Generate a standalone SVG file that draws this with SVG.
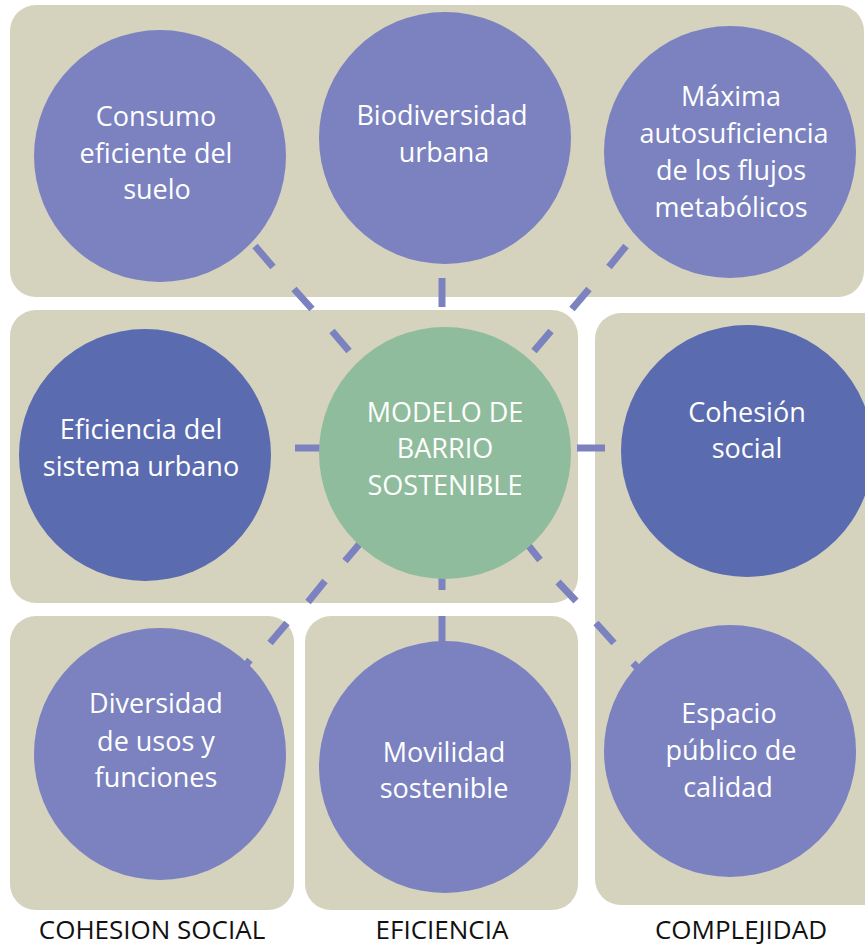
<svg xmlns="http://www.w3.org/2000/svg" width="865" height="948" viewBox="0 0 865 948">
<style>
.panel{fill:#d5d3bd}
.n{fill:#7b82bf}
.d{fill:#5b6bb0}
.c{fill:#8fbc9c}
.t{font-family:"Open Sans","Noto Sans","Liberation Sans",sans-serif;font-size:27px;fill:#ffffff;text-anchor:middle}
.lbl{font-family:"Open Sans","Noto Sans","Liberation Sans",sans-serif;font-size:26px;fill:#111111;text-anchor:middle}
.con{fill:none;stroke:#7b82bf;stroke-width:7;stroke-linecap:butt}
</style>
<rect width="865" height="948" fill="#ffffff"/>
<g id="panels">
<rect class="panel" x="10" y="5" width="854" height="292" rx="26"/>
<rect class="panel" x="10" y="310" width="568" height="293" rx="26"/>
<rect class="panel" x="595" y="313" width="300" height="592" rx="26"/>
<rect class="panel" x="10" y="616" width="284" height="294" rx="26"/>
<rect class="panel" x="305" y="616" width="273" height="294" rx="26"/>
</g>
<g id="connectors">
<path class="con" d="M255,246 L273,267 M294,289 L312,309 M332,331 L349,351"/>
<path class="con" d="M442,278 L442,307"/>
<path class="con" d="M626,246 L609,267 M589,289 L572,309 M551,331 L534,351"/>
<path class="con" d="M295,448 L322,448"/>
<path class="con" d="M577,448 L605,448"/>
<path class="con" d="M362,541 L345,561 M325,581 L308,602 M287,623 L270,643 M250,660 L235,678"/>
<path class="con" d="M442,565 L442,590 M442,616 L442,645"/>
<path class="con" d="M524,540 L540,560 M558,582 L576,601 M596,623 L614,643 M633,663 L648,679"/>
</g>
<g id="consumo"><circle class="n" cx="160" cy="156" r="126"/>
<text class="t" x="156" y="126">Consumo</text><text class="t" x="156" y="163">eficiente del</text><text class="t" x="157" y="199">suelo</text></g>
<g id="biodiversidad"><circle class="n" cx="445" cy="138" r="126"/>
<text class="t" x="442" y="125">Biodiversidad</text><text class="t" x="444" y="162">urbana</text></g>
<g id="maxima"><circle class="n" cx="730" cy="152" r="126"/>
<text class="t" x="731" y="106">Máxima</text><text class="t" x="734" y="143">autosuficiencia</text><text class="t" x="731" y="180">de los flujos</text><text class="t" x="731" y="217">metabólicos</text></g>
<g id="eficiencia"><circle class="d" cx="145" cy="455" r="126"/>
<text class="t" x="141" y="439">Eficiencia del</text><text class="t" x="141" y="476">sistema urbano</text></g>
<g id="modelo"><circle class="c" cx="445" cy="453" r="126"/>
<text class="t" x="445" y="422">MODELO DE</text><text class="t" x="445" y="458">BARRIO</text><text class="t" x="445" y="495">SOSTENIBLE</text></g>
<g id="cohesion"><circle class="d" cx="747" cy="451" r="126"/>
<text class="t" x="747" y="422">Cohesión</text><text class="t" x="747" y="458">social</text></g>
<g id="diversidad"><circle class="n" cx="160" cy="754" r="126"/>
<text class="t" x="156" y="713">Diversidad</text><text class="t" x="156" y="751">de usos y</text><text class="t" x="156" y="787">funciones</text></g>
<g id="movilidad"><circle class="n" cx="445" cy="767" r="126"/>
<text class="t" x="444" y="762">Movilidad</text><text class="t" x="444" y="798">sostenible</text></g>
<g id="espacio"><circle class="n" cx="730" cy="751" r="126"/>
<text class="t" x="729" y="723">Espacio</text><text class="t" x="731" y="760">público de</text><text class="t" x="728" y="797">calidad</text></g>
<g id="labels">
<text class="lbl" x="152" y="939">COHESION SOCIAL</text>
<text class="lbl" x="442" y="939">EFICIENCIA</text>
<text class="lbl" x="741" y="939">COMPLEJIDAD</text>
</g>
</svg>
